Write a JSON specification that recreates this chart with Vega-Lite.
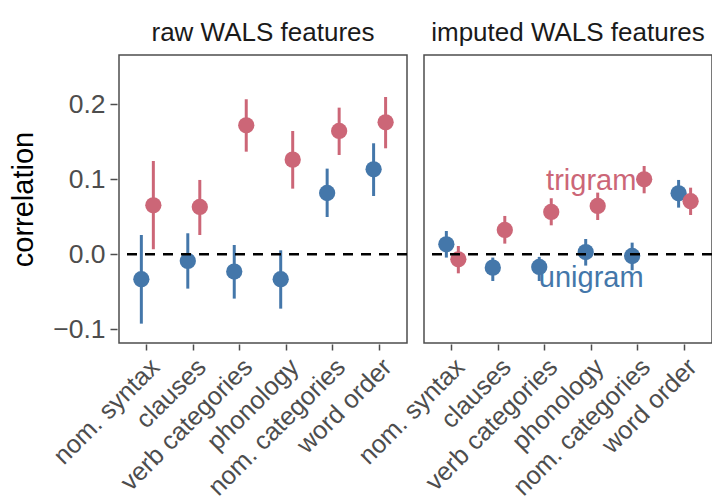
{
  "$schema": "https://vega.github.io/schema/vega-lite/v6.json",
  "padding": {"left": 9, "top": 20, "right": 0, "bottom": 0},
  "background": "white",
  "data": {
    "values": [
      {"panel": "raw WALS features", "kind": "est", "model": "unigram", "category": "nom. syntax", "r": -0.0333, "lo": -0.0925, "hi": 0.0257},
      {"panel": "raw WALS features", "kind": "est", "model": "unigram", "category": "clauses", "r": -0.0089, "lo": -0.0458, "hi": 0.028},
      {"panel": "raw WALS features", "kind": "est", "model": "unigram", "category": "verb categories", "r": -0.0231, "lo": -0.0591, "hi": 0.0124},
      {"panel": "raw WALS features", "kind": "est", "model": "unigram", "category": "phonology", "r": -0.0333, "lo": -0.0725, "hi": 0.0053},
      {"panel": "raw WALS features", "kind": "est", "model": "unigram", "category": "nom. categories", "r": 0.0817, "lo": 0.0497, "hi": 0.1142},
      {"panel": "raw WALS features", "kind": "est", "model": "unigram", "category": "word order", "r": 0.1133, "lo": 0.0777, "hi": 0.148},
      {"panel": "imputed WALS features", "kind": "est", "model": "unigram", "category": "nom. syntax", "r": 0.0133, "lo": -0.0044, "hi": 0.031},
      {"panel": "imputed WALS features", "kind": "est", "model": "unigram", "category": "clauses", "r": -0.0178, "lo": -0.0356, "hi": -0.0044},
      {"panel": "imputed WALS features", "kind": "est", "model": "unigram", "category": "verb categories", "r": -0.0169, "lo": -0.0356, "hi": -0.0035},
      {"panel": "imputed WALS features", "kind": "est", "model": "unigram", "category": "phonology", "r": 0.003, "lo": -0.0151, "hi": 0.0204},
      {"panel": "imputed WALS features", "kind": "est", "model": "unigram", "category": "nom. categories", "r": -0.0023, "lo": -0.0213, "hi": 0.0155},
      {"panel": "imputed WALS features", "kind": "est", "model": "unigram", "category": "word order", "r": 0.0813, "lo": 0.0622, "hi": 0.0991},
      {"panel": "raw WALS features", "kind": "est", "model": "trigram", "category": "nom. syntax", "r": 0.0653, "lo": 0.0067, "hi": 0.1244},
      {"panel": "raw WALS features", "kind": "est", "model": "trigram", "category": "clauses", "r": 0.0631, "lo": 0.0257, "hi": 0.0991},
      {"panel": "raw WALS features", "kind": "est", "model": "trigram", "category": "verb categories", "r": 0.172, "lo": 0.1368, "hi": 0.2067},
      {"panel": "raw WALS features", "kind": "est", "model": "trigram", "category": "phonology", "r": 0.1262, "lo": 0.0875, "hi": 0.1644},
      {"panel": "raw WALS features", "kind": "est", "model": "trigram", "category": "nom. categories", "r": 0.1644, "lo": 0.1324, "hi": 0.1955},
      {"panel": "raw WALS features", "kind": "est", "model": "trigram", "category": "word order", "r": 0.176, "lo": 0.1413, "hi": 0.2097},
      {"panel": "imputed WALS features", "kind": "est", "model": "trigram", "category": "nom. syntax", "r": -0.0067, "lo": -0.0254, "hi": 0.011},
      {"panel": "imputed WALS features", "kind": "est", "model": "trigram", "category": "clauses", "r": 0.0324, "lo": 0.0142, "hi": 0.0511},
      {"panel": "imputed WALS features", "kind": "est", "model": "trigram", "category": "verb categories", "r": 0.0564, "lo": 0.0386, "hi": 0.0747},
      {"panel": "imputed WALS features", "kind": "est", "model": "trigram", "category": "phonology", "r": 0.0644, "lo": 0.0457, "hi": 0.0822},
      {"panel": "imputed WALS features", "kind": "est", "model": "trigram", "category": "nom. categories", "r": 0.1, "lo": 0.0813, "hi": 0.1177},
      {"panel": "imputed WALS features", "kind": "est", "model": "trigram", "category": "word order", "r": 0.0707, "lo": 0.0524, "hi": 0.0888},
      {"panel": "imputed WALS features", "kind": "label", "model": "trigram", "category": "phonology", "r": 0.0857, "text": "trigram"},
      {"panel": "imputed WALS features", "kind": "label", "model": "unigram", "category": "phonology", "r": -0.0436, "text": "unigram"}
    ]
  },
  "facet": {
    "column": {
      "field": "panel",
      "type": "nominal",
      "sort": ["raw WALS features", "imputed WALS features"],
      "header": {"title": null, "labelFontSize": 26, "labelFont": "Liberation Sans", "labelColor": "#1a1a1a", "labelPadding": 8}
    }
  },
  "spacing": 13,
  "spec": {
    "width": 288,
    "height": 288,
    "encoding": {
      "x": {
        "field": "category", "type": "nominal",
        "sort": ["nom. syntax", "clauses", "verb categories", "phonology", "nom. categories", "word order"],
        "scale": {"type": "band", "paddingInner": 0, "paddingOuter": 0.1},
        "axis": {"title": null, "labelAngle": -45, "labelAlign": "right", "labelBaseline": "top", "labelPadding": 4, "labelFontSize": 25.5, "labelLimit": 0}
      },
      "y": {
        "field": "r", "type": "quantitative",
        "scale": {"domain": [-0.1183, 0.2657], "nice": false, "zero": false},
        "axis": {"title": "correlation", "values": [-0.1, 0, 0.1, 0.2], "format": ".1f", "titleFontSize": 29, "titlePadding": 14, "labelFontSize": 26.5, "tickSize": 7, "labelPadding": 5}
      },
      "color": {
        "field": "model", "type": "nominal",
        "scale": {"domain": ["unigram", "trigram"], "range": ["#4477AA", "#CC6677"]},
        "legend": null
      }
    },
    "layer": [
      {
        "transform": [{"filter": "datum.kind == 'est'"}],
        "mark": {"type": "rule", "strokeWidth": 3},
        "encoding": {
          "xOffset": {"field": "model", "type": "nominal", "sort": ["unigram", "trigram"], "scale": {"type": "point", "range": [17.7, 29.7], "padding": 0}},
          "y": {"field": "lo", "type": "quantitative"},
          "y2": {"field": "hi"}
        }
      },
      {
        "transform": [{"filter": "datum.kind == 'est'"}],
        "mark": {"type": "circle", "size": 265, "opacity": 1},
        "encoding": {
          "xOffset": {"field": "model", "type": "nominal", "sort": ["unigram", "trigram"], "scale": {"type": "point", "range": [17.7, 29.7], "padding": 0}}
        }
      },
      {
        "transform": [{"filter": "datum.kind == 'est' && datum.model == 'unigram' && datum.category == 'clauses'"}],
        "mark": {"type": "rule", "strokeDash": [10, 8], "strokeWidth": 2.5, "color": "black"},
        "encoding": {"x": null, "color": null, "y": {"datum": 0}}
      },
      {
        "transform": [{"filter": "datum.kind == 'label'"}],
        "mark": {"type": "text", "fontSize": 29, "font": "Liberation Sans", "align": "center", "baseline": "alphabetic"},
        "encoding": {"text": {"field": "text"}}
      }
    ]
  },
  "config": {
    "font": "Liberation Sans",
    "view": {"stroke": "#4d4d4d", "strokeWidth": 1.5},
    "axis": {
      "domain": false, "grid": false,
      "tickColor": "#4d4d4d", "tickWidth": 1.5, "tickSize": 6,
      "labelColor": "#4d4d4d", "labelFontSize": 25, "labelFont": "Liberation Sans",
      "titleFont": "Liberation Sans", "titleFontWeight": "normal", "titleColor": "black"
    }
  }
}
